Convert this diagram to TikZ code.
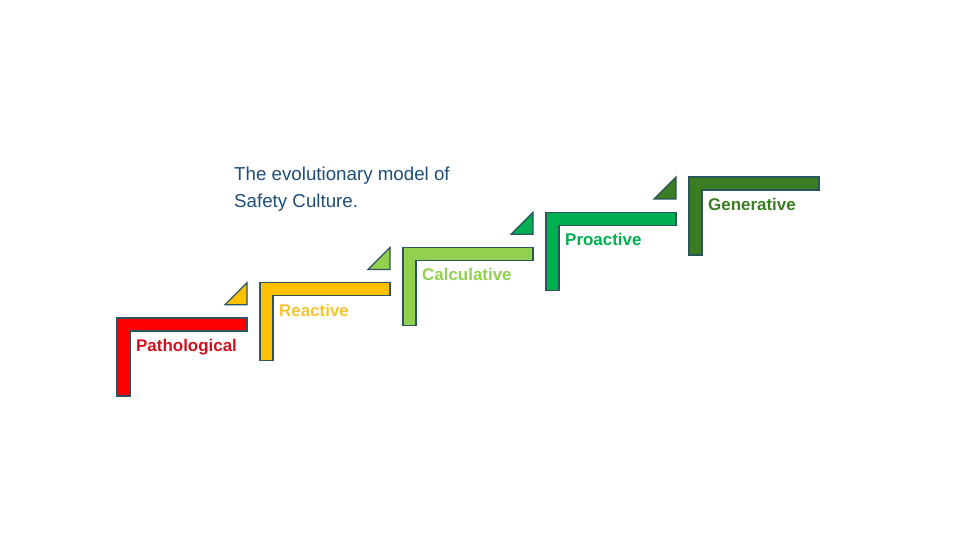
\documentclass[tikz,border=0pt]{standalone}
\usepackage{fontspec}
\setmainfont{Liberation Sans}
\definecolor{edgeslate}{RGB}{44,84,94}
\definecolor{titleblue}{RGB}{30,78,121}
\definecolor{stepred}{RGB}{255,0,0}
\definecolor{stepredtext}{RGB}{208,16,30}
\definecolor{stepgold}{RGB}{255,192,0}
\definecolor{stepgoldtext}{RGB}{245,196,50}
\definecolor{steplime}{RGB}{146,208,80}
\definecolor{stepgreen}{RGB}{0,176,80}
\definecolor{stepdark}{RGB}{58,125,34}
\begin{document}
\begin{tikzpicture}[
        x=1bp, y=-1bp,
        stepshape/.style={draw=edgeslate, line width=1.2bp, line join=miter},
        steplabel/.style={anchor=base west, inner sep=0pt, font=\fontsize{17}{20}\selectfont\bfseries},
        titletext/.style={anchor=base west, inner sep=0pt, text=titleblue, font=\fontsize{18.8}{27}\selectfont}
        ]
        \useasboundingbox (0,0) rectangle (967,540);

        % title
        \node [titletext] (title1) at (234,181) {The evolutionary model of};
        \node [titletext] (title2) at (234,208) {Safety Culture.};

        % steps: index / fill / text colour / label
        \foreach \i/\c/\t/\name/\lab in {0/stepred/stepredtext/patho/Pathological,
                                        1/stepgold/stepgoldtext/react/Reactive,
                                        2/steplime/steplime/calc/Calculative,
                                        3/stepgreen/stepgreen/proact/Proactive,
                                        4/stepdark/stepdark/gen/Generative} {
            \pgfmathsetmacro{\ox}{117+143*\i}
            \pgfmathsetmacro{\oy}{318-35.25*\i}
            \draw[stepshape, fill=\c] (\ox,\oy) -- ++(130,0) -- ++(0,13) -- ++(-117,0)
                -- ++(0,65) -- ++(-13,0) -- cycle;
            \ifnum\i>0
                \draw[stepshape, fill=\c] (\ox-13,\oy) -- ++(0,22) -- ++(-22,0) -- cycle;
            \fi
            \node [steplabel, text=\t] (\name) at (\ox+19,\oy+33.5) {\lab};
        }
    \end{tikzpicture}
\end{document}
